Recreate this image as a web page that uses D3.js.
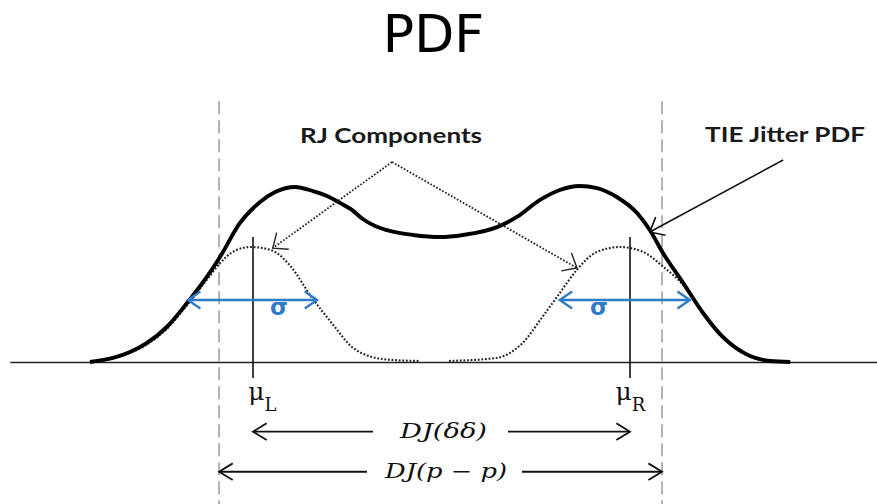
<!DOCTYPE html>
<html>
<head>
<meta charset="utf-8">
<script src="https://cdn.jsdelivr.net/npm/d3@7"></script>
<style>
  html, body { margin: 0; padding: 0; background: #fff; }
  svg { display: block; }
</style>
</head>
<body>
<svg id="chart" width="877" height="504"></svg>
<script>
// Time axis in ps, PDF amplitude normalised to the main peak.
// Total TIE jitter PDF (solid curve), sampled points.
const pdfX = [-74.6, -69.7, -66.1, -62.5, -58.3, -54.0, -49.8, -47.0, -42.8, -38.5, -35.3, -31.1, -27.3, -24.3, -21.5, -19.0,
              -16.7, -14.1, -11.6, -6.0, -0.3, 4.6, 11.8, 16.0, 20.9, 25.1, 29.3, 33.0, 37.2, 41.5, 44.2, 47.0, 51.3, 55.5, 59.7, 65.5, 69.7, 74.0];
const pdfY = [0.0, 0.023, 0.057, 0.109, 0.2, 0.337, 0.486, 0.6, 0.794, 0.914, 0.971, 1.0, 0.977, 0.949, 0.909, 0.869,
              0.817, 0.777, 0.754, 0.726, 0.714, 0.726, 0.771, 0.829, 0.926, 0.983, 1.006, 0.994, 0.943, 0.851, 0.754, 0.623, 0.451, 0.28, 0.143, 0.034, 0.006, 0.0];

// Left random-jitter component (dotted).
const rjLeftX = [-74.6, -66.1, -62.5, -58.3, -54.0, -49.8, -47.0, -43.9, -40.5, -36.2, -31.9, -27.6, -23.3, -19.0, -14.8, -10.1, -4.8];
const rjLeftY = [0.0, 0.052, 0.1, 0.19, 0.325, 0.47, 0.565, 0.635, 0.657, 0.64, 0.543, 0.371, 0.223, 0.086, 0.029, 0.011, 0.006];

// Right random-jitter component (dotted).
const rjRightX = [1.6, 11.6, 17.2, 21.4, 25.1, 28.7, 33.0, 37.9, 42.8, 47.1, 51.3, 55.5, 59.7, 65.5, 69.7, 74.0];
const rjRightY = [0.006, 0.023, 0.109, 0.257, 0.394, 0.526, 0.629, 0.657, 0.629, 0.543, 0.44, 0.274, 0.137, 0.03, 0.005, 0.0];

// Component means and deterministic-jitter limits.
const muX = [-40, 40];
const muNames = ["L", "R"];
const muLabelX = [-38.0, 40.1];
const muTop = 0.714, muBottom = -0.091, muLabelY = -0.217;
const ppEdges = [-47.2, 46.8];
const dashTop = 1.49, dashBottom = -0.95;

// Sigma spans around each component.
const sigmaSpans = [[-53.8, -26.4], [25.1, 52.7]];
const sigmaLabelX = [-34.5, 33.4];
const sigmaLevel = 0.354, sigmaLabelY = 0.269;

// Dimension arrows.
const djLevels = [-0.398, -0.627];
const djLabels = ["DJ(δδ)", "DJ(p − p)"];

// Callouts.
const rjApex = [-10.5, 1.143];
const rjTips = [[-35.8, 0.651], [28.75, 0.537]];
const rjLabelPos = [-10.7, 1.251];
const tieStart = [72.5, 1.154];
const tieTip = [44.2, 0.743];
const tieLabelPos = [72.9, 1.257];

const baseRange = [-91.6, 92.8];

const svg = d3.select("#chart");
const x = d3.scaleLinear().domain([-40, 40]).range([253, 630]);
const y = d3.scaleLinear().domain([0, 1]).range([362, 187]);

const ink = "#111";
const blue = "#2e7cc8";

// Title
svg.append("text")
  .attr("x", 433.5).attr("y", 52)
  .attr("text-anchor", "middle")
  .attr("font-family", "'DejaVu Sans', sans-serif")
  .attr("font-size", 52)
  .attr("fill", "#000")
  .text("PDF");

// Horizontal time axis (baseline)
const xb = d3.scaleLinear().domain(baseRange).range([x(baseRange[0]), x(baseRange[1])]);
const axisG = svg.append("g")
  .attr("transform", `translate(0,${y(0)})`)
  .call(d3.axisBottom(xb).tickValues([]).tickSizeOuter(0));
axisG.select(".domain").attr("stroke", "#222").attr("stroke-width", 1.6);

// Dashed p-p limits
svg.append("g").selectAll("line").data(ppEdges).join("line")
  .attr("x1", d => x(d)).attr("x2", d => x(d))
  .attr("y1", y(dashTop)).attr("y2", y(dashBottom))
  .attr("stroke", "#9a9a9a").attr("stroke-width", 1.5)
  .attr("stroke-dasharray", "13,6");

const line = d3.line()
  .x(d => x(d[0])).y(d => y(d[1]))
  .curve(d3.curveMonotoneX);

// RJ components (dotted)
[[rjLeftX, rjLeftY], [rjRightX, rjRightY]].forEach(([xs, ys]) => {
  svg.append("path")
    .datum(xs.map((v, i) => [v, ys[i]]))
    .attr("d", line)
    .attr("fill", "none")
    .attr("stroke", "#222")
    .attr("stroke-width", 2.1)
    .attr("stroke-dasharray", "1.8,1.8");
});

// Total PDF (thick)
svg.append("path")
  .datum(pdfX.map((v, i) => [v, pdfY[i]]))
  .attr("d", line)
  .attr("fill", "none")
  .attr("stroke", "#000")
  .attr("stroke-width", 3.9)
  .attr("stroke-linejoin", "round");

// Mean markers
svg.append("g").selectAll("line").data(muX).join("line")
  .attr("x1", d => x(d)).attr("x2", d => x(d))
  .attr("y1", y(muTop)).attr("y2", y(muBottom))
  .attr("stroke", ink).attr("stroke-width", 1.6);

const muText = svg.append("g").selectAll("text").data(muNames).join("text")
  .attr("x", (d, i) => x(muLabelX[i])).attr("y", y(muLabelY))
  .attr("text-anchor", "middle")
  .attr("font-family", "'DejaVu Serif', serif")
  .attr("fill", ink);
muText.append("tspan").attr("font-size", 25).text("μ");
muText.append("tspan").attr("font-size", 18).attr("dy", 11).text(d => d);

// Chevron arrowhead helper: tip in px, direction the arrow points (radians)
function chevron(g, tx, ty, ang, len, half, color, width) {
  const back = ang + Math.PI;
  const p = d3.path();
  p.moveTo(tx + len * Math.cos(back + half), ty + len * Math.sin(back + half));
  p.lineTo(tx, ty);
  p.lineTo(tx + len * Math.cos(back - half), ty + len * Math.sin(back - half));
  g.append("path").attr("d", p.toString())
    .attr("fill", "none").attr("stroke", color).attr("stroke-width", width)
    .attr("stroke-linejoin", "miter").attr("stroke-linecap", "butt");
}

// Sigma arrows
const sg = svg.append("g");
sigmaSpans.forEach((s, i) => {
  const x0 = x(s[0]), x1 = x(s[1]), yy = y(sigmaLevel);
  sg.append("line").attr("x1", x0 + 1).attr("x2", x1 - 1).attr("y1", yy).attr("y2", yy)
    .attr("stroke", blue).attr("stroke-width", 2.4);
  chevron(sg, x0, yy, Math.PI, 15, 0.6, blue, 2.4);
  chevron(sg, x1, yy, 0, 15, 0.6, blue, 2.4);
  sg.append("text")
    .attr("x", x(sigmaLabelX[i])).attr("y", y(sigmaLabelY))
    .attr("text-anchor", "middle")
    .attr("font-family", "'DejaVu Sans', sans-serif")
    .attr("font-weight", "bold")
    .attr("font-size", 23)
    .attr("fill", blue)
    .text("σ");
});

// DJ dimension arrows
const dg = svg.append("g");
const djSpans = [[muX[0], muX[1]], ppEdges];
const djText = [
  { cx: 443.5, w: 87, padL: 27, padR: 21, dy: 6.5 },
  { cx: 446, w: 122, padL: 18, padR: 15, dy: 6.5 }
];
djLevels.forEach((lv, i) => {
  const yy = y(lv), x0 = x(djSpans[i][0]), x1 = x(djSpans[i][1]);
  const t = djText[i];
  dg.append("text")
    .attr("x", t.cx).attr("y", yy + t.dy)
    .attr("text-anchor", "middle")
    .attr("font-family", "'DejaVu Serif', serif")
    .attr("font-style", "italic")
    .attr("font-size", 20)
    .attr("textLength", t.w).attr("lengthAdjust", "spacingAndGlyphs")
    .attr("fill", ink)
    .text(djLabels[i]);
  const gl = t.cx - t.w / 2 - t.padL, gr = t.cx + t.w / 2 + t.padR;
  dg.append("line").attr("x1", x0 + 1).attr("x2", gl).attr("y1", yy).attr("y2", yy)
    .attr("stroke", ink).attr("stroke-width", 1.8);
  dg.append("line").attr("x1", gr).attr("x2", x1 - 1).attr("y1", yy).attr("y2", yy)
    .attr("stroke", ink).attr("stroke-width", 1.8);
  chevron(dg, x0, yy, Math.PI, 16, 0.55, ink, 1.8);
  chevron(dg, x1, yy, 0, 16, 0.55, ink, 1.8);
});

// RJ callout
const cg = svg.append("g");
rjTips.forEach(tp => {
  const ax = x(rjApex[0]), ay = y(rjApex[1]), tx = x(tp[0]), ty = y(tp[1]);
  cg.append("line").attr("x1", ax).attr("y1", ay).attr("x2", tx).attr("y2", ty)
    .attr("stroke", "#222").attr("stroke-width", 1.8).attr("stroke-dasharray", "1.7,1.7");
  chevron(cg, tx, ty, Math.atan2(ty - ay, tx - ax), 16, 0.7, "#222", 1.4);
});
cg.append("text")
  .attr("x", x(rjLabelPos[0])).attr("y", y(rjLabelPos[1]))
  .attr("text-anchor", "middle")
  .attr("font-family", "Lato, 'Open Sans', sans-serif")
  .attr("font-weight", "bold")
  .attr("font-size", 21)
  .attr("textLength", 182).attr("lengthAdjust", "spacingAndGlyphs")
  .attr("fill", "#1a1a1a")
  .text("RJ Components");

// TIE jitter PDF callout
{
  const sx = x(tieStart[0]), sy = y(tieStart[1]), tx = x(tieTip[0]), ty = y(tieTip[1]);
  cg.append("line").attr("x1", sx).attr("y1", sy).attr("x2", tx).attr("y2", ty)
    .attr("stroke", "#111").attr("stroke-width", 1.6);
  chevron(cg, tx, ty, Math.atan2(ty - sy, tx - sx), 16, 0.7, "#111", 1.6);
  cg.append("text")
    .attr("x", x(tieLabelPos[0])).attr("y", y(tieLabelPos[1]))
    .attr("text-anchor", "middle")
    .attr("font-family", "Lato, 'Open Sans', sans-serif")
    .attr("font-weight", "bold")
    .attr("font-size", 21)
    .attr("textLength", 160).attr("lengthAdjust", "spacingAndGlyphs")
    .attr("fill", "#1a1a1a")
    .text("TIE Jitter PDF");
}
</script>
</body>
</html>
